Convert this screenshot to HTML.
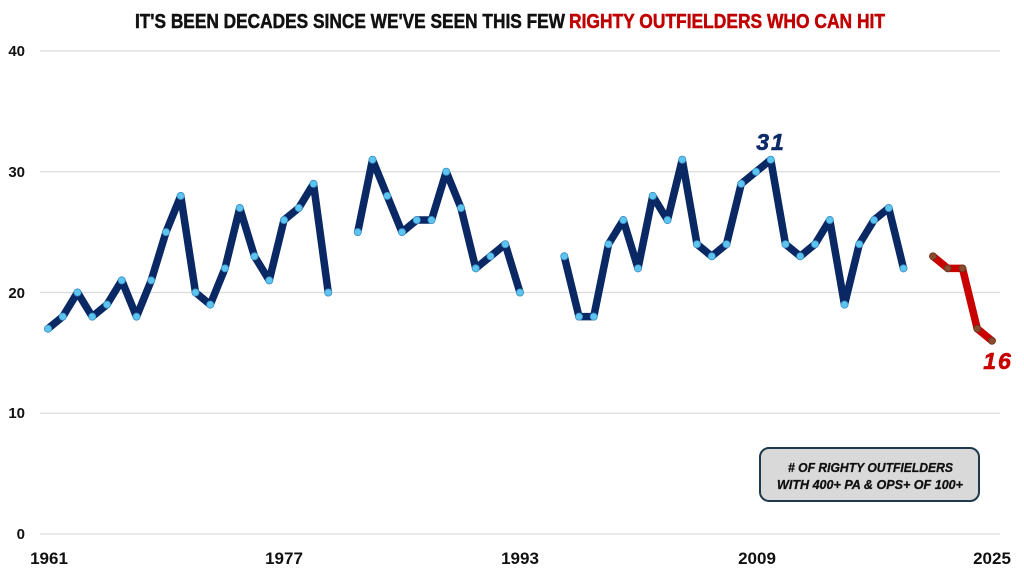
<!DOCTYPE html>
<html>
<head>
<meta charset="utf-8">
<style>
html,body{margin:0;padding:0;background:#fff;}
svg{display:block;}
</style>
</head>
<body>
<svg width="1024" height="576" viewBox="0 0 1024 576" xmlns="http://www.w3.org/2000/svg">
<defs>
<marker id="mb" markerUnits="userSpaceOnUse" markerWidth="12" markerHeight="12" refX="6" refY="6" viewBox="0 0 12 12">
<circle cx="6" cy="6" r="3.6" fill="#5cc4ef" stroke="#3b8fc4" stroke-width="0.8"/>
</marker>
<marker id="mr" markerUnits="userSpaceOnUse" markerWidth="12" markerHeight="12" refX="6" refY="6" viewBox="0 0 12 12">
<circle cx="6" cy="6" r="3.5" fill="#8a4a2c" stroke="#6b3520" stroke-width="0.8"/>
</marker>
</defs>
<rect width="1024" height="576" fill="#fff"/>

<!-- title -->
<g font-family="'Liberation Sans', sans-serif" font-weight="bold" font-size="20" stroke-width="0.5">
<text x="135" y="28" fill="#111" stroke="#111" textLength="430" lengthAdjust="spacingAndGlyphs">IT'S BEEN DECADES SINCE WE'VE SEEN THIS FEW</text>
<text x="569" y="28" fill="#c00000" stroke="#c00000" textLength="316" lengthAdjust="spacingAndGlyphs">RIGHTY OUTFIELDERS WHO CAN HIT</text>
</g>

<!-- gridlines -->
<g stroke="#dcdcdc" stroke-width="1.3">
<line x1="40" y1="51" x2="1000" y2="51"/>
<line x1="40" y1="171.75" x2="1000" y2="171.75"/>
<line x1="40" y1="292.5" x2="1000" y2="292.5"/>
<line x1="40" y1="413.25" x2="1000" y2="413.25"/>
<line x1="40" y1="534" x2="1000" y2="534"/>
</g>

<!-- y labels -->
<g font-family="'Liberation Sans', sans-serif" font-weight="bold" font-size="15" fill="#111" text-anchor="end">
<text x="25" y="56">40</text>
<text x="25" y="177">30</text>
<text x="25" y="298">20</text>
<text x="25" y="418">10</text>
<text x="25" y="539">0</text>
</g>

<!-- x labels -->
<g font-family="'Liberation Sans', sans-serif" font-weight="bold" font-size="17" fill="#111" text-anchor="middle">
<text x="49" y="564">1961</text>
<text x="284" y="564">1977</text>
<text x="520" y="564">1993</text>
<text x="757" y="564">2009</text>
<text x="992" y="564">2025</text>
</g>

<!-- series -->
<g fill="none" stroke="#0a2864" stroke-width="7.5" stroke-linejoin="round" stroke-linecap="round" marker-start="url(#mb)" marker-mid="url(#mb)" marker-end="url(#mb)">
<polyline points="48,328.7 62.75,316.65 77.5,292.5 92.25,316.65 107,304.6 121.75,280.4 136.5,316.65 151.25,280.4 166,232.1 180.75,195.9 195.5,292.5 210.25,304.6 225,268.35 239.75,208 254.5,256.3 269.25,280.4 284,220.05 298.75,208 313.5,183.8 328.25,292.5"/>
<polyline points="357.75,232.1 372.5,159.7 387.25,195.9 402,232.1 416.75,220.05 431.5,220.05 446.25,171.75 461,208 475.75,268.35 490.5,256.3 505.25,244.2 520,292.5"/>
<polyline points="564.25,256.3 579,316.65 593.75,316.65 608.5,244.2 623.25,220.05 638,268.35 652.75,195.9 667.5,220.05 682.25,159.7 697,244.2 711.75,256.3 726.5,244.2 741.25,183.8 756,171.75 770.75,159.7 785.5,244.2 800.25,256.3 815,244.2 829.75,220.05 844.5,304.6 859.25,244.2 874,220.05 888.75,208 903.5,268.35"/>
</g>
<polyline points="933,256.3 947.75,268.35 962.5,268.35 977.25,328.7 992,340.8" fill="none" stroke="#c80000" stroke-width="7.5" stroke-linejoin="round" stroke-linecap="round" marker-start="url(#mr)" marker-mid="url(#mr)" marker-end="url(#mr)"/>

<!-- annotations -->
<text x="771" y="150" font-family="'Liberation Sans', sans-serif" font-weight="bold" font-style="italic" font-size="23" fill="#0c2b66" stroke="#0c2b66" stroke-width="0.6" text-anchor="middle" letter-spacing="2">31</text>
<text x="998" y="369" font-family="'Liberation Sans', sans-serif" font-weight="bold" font-style="italic" font-size="23" fill="#c80000" stroke="#c80000" stroke-width="0.6" text-anchor="middle" letter-spacing="2">16</text>

<!-- legend box -->
<rect x="760" y="448" width="219" height="53" rx="9" ry="9" fill="#d9d9d9" stroke="#1e3a4c" stroke-width="2"/>
<g font-family="'Liberation Sans', sans-serif" font-weight="bold" font-style="italic" font-size="13" fill="#111" stroke="#111" stroke-width="0.3">
<text x="788" y="472" textLength="165" lengthAdjust="spacingAndGlyphs"># OF RIGHTY OUTFIELDERS</text>
<text x="777" y="489" textLength="186" lengthAdjust="spacingAndGlyphs">WITH 400+ PA &amp; OPS+ OF 100+</text>
</g>
</svg>
</body>
</html>
